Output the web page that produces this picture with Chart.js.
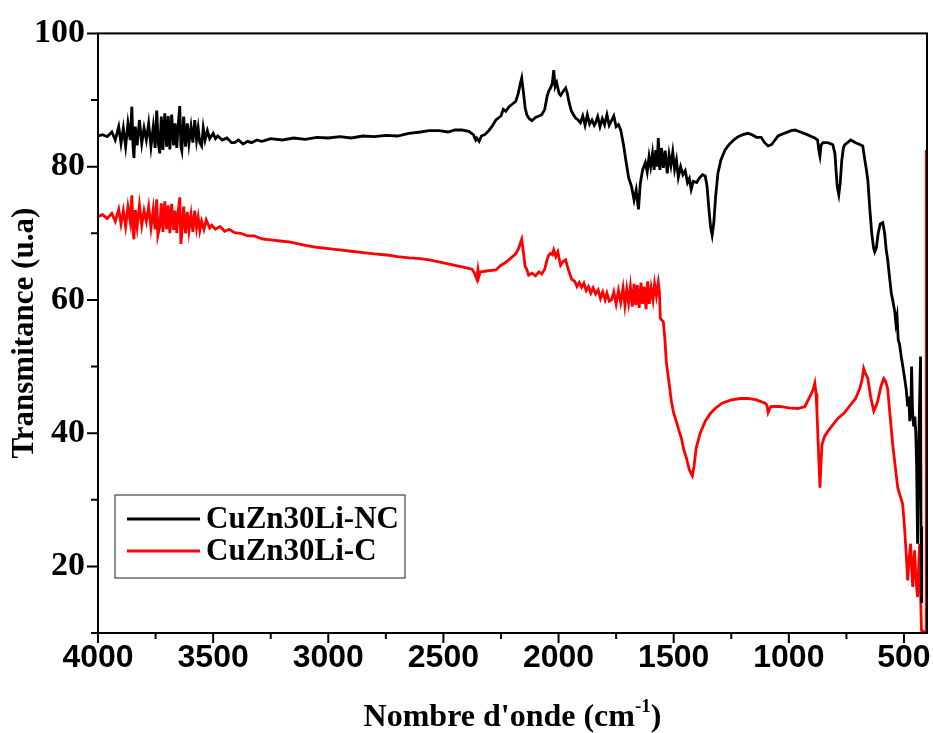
<!DOCTYPE html>
<html><head><meta charset="utf-8">
<script src="https://cdn.jsdelivr.net/npm/chart.js@4.4.1/dist/chart.umd.min.js"></script>
<style>html,body{margin:0;padding:0;background:#fff}#wrap{width:933px;height:733px;position:relative}</style>
</head><body><div id="wrap"><canvas id="c" width="933" height="733"></canvas></div>
<script>
// ---- data (wavenumber cm-1, transmittance %) ----
const ncWave=[4000,3980,3960,3940,3925,3910,3900,3890,3880,3870,3860,3853,3848,3844,3838,3830,3820,3810,3800,3790,3780,3770,3760,3752,3745,3738,3732,3725,3718,3710,3702,3695,3688,3680,3672,3665,3658,3650,3645,3640,3636,3628,3620,3612,3605,3596,3588,3580,3572,3565,3558,3550,3543,3535,3525,3515,3500,3490,3480,3460,3440,3420,3407,3390,3370,3350,3333,3310,3290,3277,3250,3200,3150,3100,3050,3000,2950,2900,2850,2800,2750,2700,2650,2600,2562,2519,2480,2450,2419,2390,2370,2360,2355,2345,2335,2320,2303,2290,2272,2250,2240,2229,2215,2200,2186,2175,2166,2160,2152,2145,2138,2127,2116,2100,2085,2073,2060,2050,2043,2035,2027,2021,2015,2008,1998,1991,1980,1969,1962,1956,1945,1935,1926,1915,1905,1895,1885,1875,1865,1855,1845,1839,1830,1820,1810,1800,1790,1780,1770,1760,1750,1740,1730,1718,1708,1696,1683,1672,1663,1653,1645,1635,1623,1615,1607,1600,1592,1585,1578,1572,1567,1560,1553,1545,1537,1528,1520,1512,1504,1496,1488,1480,1470,1460,1450,1440,1432,1424,1415,1400,1390,1375,1363,1355,1348,1340,1333,1326,1318,1308,1295,1277,1260,1240,1220,1200,1177,1160,1140,1120,1105,1090,1075,1060,1047,1020,990,973,950,920,900,887,875,870,865,860,852,830,809,800,795,790,783,777,770,763,757,745,731,710,690,679,670,663,657,648,640,632,627,620,612,603,592,584,577,571,563,555,548,540,535,530,525,519,512,505,497,490,484,479,475,470,467,463,458,453,449,445,441,436,432,428,426,423];
const ncT=[84.6,84.8,84.5,85.2,84.0,86.0,83.5,85.8,83.0,86.5,84.0,89.0,83.0,81.3,86.0,83.2,87.0,83.5,85.8,84.0,86.5,83.0,86.0,82.8,88.4,83.5,82.0,87.5,82.5,88.0,83.0,87.6,82.6,87.8,83.2,86.5,82.8,87.0,89.1,83.0,82.4,87.5,83.0,86.5,83.5,86.0,83.6,87.0,84.0,85.8,83.6,83.1,85.8,84.0,85.4,84.2,85.0,84.2,84.6,84.0,84.3,83.6,83.6,84.0,83.4,83.8,83.6,84.0,83.8,83.9,84.2,84.0,84.3,84.1,84.4,84.3,84.5,84.3,84.6,84.5,84.7,84.6,85.0,85.2,85.4,85.4,85.2,85.5,85.5,85.3,84.8,84.0,84.3,83.8,84.6,84.8,85.4,86.0,87.0,87.6,88.6,88.3,89.0,89.4,89.8,91.0,92.5,93.3,91.0,88.8,87.8,87.2,86.9,87.4,87.6,87.8,88.6,90.5,91.3,91.8,92.5,94.5,92.0,92.6,91.0,90.7,91.3,91.8,91.0,89.9,88.4,87.8,87.3,87.0,86.6,87.6,86.2,87.8,86.4,87.0,86.2,86.6,87.5,86.0,87.2,86.3,87.8,86.2,86.9,87.6,86.0,86.3,85.5,83.3,81.0,78.4,77.0,75.0,76.5,73.6,77.5,79.5,80.6,79.2,81.5,80.0,82.0,79.5,82.5,80.0,84.3,79.5,82.8,79.8,82.4,79.0,81.8,80.2,82.2,79.6,81.0,78.4,80.0,78.8,79.4,77.6,78.2,76.6,77.8,77.6,78.2,78.8,78.6,77.0,74.0,71.0,69.7,71.5,75.5,79.0,81.0,82.5,83.3,84.0,84.5,84.8,85.0,84.8,84.4,84.4,83.6,83.1,83.3,84.0,84.6,85.0,85.4,85.5,85.2,84.8,84.5,84.3,84.0,82.5,81.6,83.2,83.6,83.6,83.3,82.0,79.5,77.0,75.8,77.5,81.0,82.8,83.3,83.6,84.0,83.6,83.3,83.1,81.0,79.5,78.0,73.5,70.0,67.8,67.2,67.8,70.0,71.4,71.6,70.0,67.5,66.1,63.5,61.0,59.8,58.2,56.5,57.5,54.0,53.3,51.5,50.0,48.2,46.5,44.0,45.5,41.8,43.0,50.0,43.5,41.0,42.5,40.3,35.0,23.4,38.0,45.0,51.5,26.0,14.5];
const cWave=[4000,3980,3960,3940,3925,3910,3900,3890,3880,3870,3860,3853,3848,3844,3838,3830,3820,3810,3800,3790,3780,3770,3760,3752,3745,3740,3732,3725,3718,3710,3702,3695,3688,3680,3672,3665,3658,3650,3645,3640,3636,3628,3620,3612,3605,3596,3588,3580,3572,3565,3558,3550,3540,3530,3515,3506,3490,3470,3450,3430,3407,3380,3350,3320,3300,3277,3250,3200,3169,3130,3100,3050,3000,2950,2900,2850,2800,2736,2700,2650,2600,2562,2520,2480,2440,2400,2376,2365,2355,2350,2346,2340,2320,2300,2272,2250,2230,2210,2186,2175,2166,2160,2152,2145,2138,2130,2115,2100,2085,2073,2060,2050,2043,2035,2027,2021,2012,2003,1995,1991,1980,1969,1960,1950,1943,1930,1920,1910,1900,1890,1880,1870,1860,1850,1839,1828,1818,1808,1798,1790,1780,1770,1760,1750,1740,1730,1720,1712,1704,1696,1688,1680,1672,1665,1658,1650,1642,1635,1628,1620,1613,1606,1598,1590,1583,1575,1567,1562,1558,1545,1538,1532,1520,1510,1500,1489,1478,1467,1456,1445,1432,1425,1419,1412,1402,1385,1363,1340,1320,1290,1250,1210,1177,1140,1103,1095,1090,1084,1077,1040,1000,960,930,904,895,887,882,878,872,865,861,856,845,830,810,787,760,731,710,692,682,675,668,657,645,631,622,614,600,588,580,571,560,549,538,527,516,506,500,493,488,484,478,471,467,462,458,454,448,441,436,432,428,424,414,404,403];
const cT=[72.5,72.8,72.2,73.0,71.8,73.6,71.4,73.4,71.0,74.0,71.8,75.7,70.5,69.1,73.5,71.0,74.2,71.2,73.4,71.8,74.0,70.8,73.6,70.6,75.1,69.7,71.0,74.5,70.2,74.8,70.6,74.2,70.0,74.4,70.5,73.4,70.0,73.8,75.4,68.4,70.0,74.0,70.0,73.2,70.4,72.8,70.2,73.4,70.8,72.4,70.4,71.8,70.6,72.0,70.8,71.2,70.6,71.0,70.3,70.6,70.1,70.0,69.6,69.6,69.3,69.1,69.0,68.8,68.7,68.4,68.2,67.9,67.7,67.5,67.3,67.1,66.9,66.7,66.5,66.3,66.2,66.0,65.7,65.4,65.1,64.8,64.6,64.0,63.1,64.5,63.5,64.2,64.3,64.4,64.5,65.2,65.6,66.2,66.9,67.6,68.5,69.1,67.0,65.0,64.6,63.7,64.0,63.6,64.2,63.9,64.6,66.0,66.7,67.0,66.8,67.5,66.5,67.2,65.8,65.2,65.8,66.0,64.8,63.8,63.1,62.8,62.0,62.6,61.9,62.5,61.4,62.0,61.0,61.8,60.9,61.5,60.2,61.2,60.0,61.0,59.8,60.0,61.2,59.4,61.4,59.6,61.8,59.2,61.6,59.6,62.0,59.0,62.4,59.2,62.2,58.8,62.6,59.4,62.0,58.6,62.8,59.4,61.8,60.0,62.4,60.6,62.6,61.2,57.2,56.7,54.0,50.7,47.5,44.8,43.0,41.8,40.5,39.3,37.5,36.3,34.5,34.0,33.6,35.0,37.8,40.0,41.8,43.0,43.7,44.5,45.0,45.2,45.2,45.0,44.5,44.2,43.1,43.6,44.0,44.0,43.8,43.7,44.0,45.8,46.5,47.5,46.0,43.3,38.0,31.8,35.0,38.3,39.5,40.3,41.2,42.2,43.0,44.3,45.2,46.7,48.0,49.7,49.0,48.2,45.5,43.3,44.0,44.8,47.0,48.2,47.8,46.7,42.5,38.3,35.0,31.8,30.5,29.4,27.0,23.4,20.5,17.9,21.0,23.4,20.0,16.9,20.5,22.4,18.0,15.4,20.0,23.4,16.0,10.4,10.2,10.0,82.5];
const seriesLabels=['CuZn30Li-NC','CuZn30Li-C'];
const seriesColors=['#000000','#ff0000'];
const xMajorTicks=[4000,3500,3000,2500,2000,1500,1000,500];
const xMinorTicks=[3750,3250,2750,2250,1750,1250,750];
const yMajorTicks=[20,40,60,80,100];
const yMinorTicks=[10,30,50,70,90];
const xTitleMain="Nombre d'onde (cm";
const xTitleSup="-1";
const xTitleEnd=")";
const yTitle="Transmitance (u.a)";

const toXY=(xs,ys)=>xs.map((x,i)=>({x:x,y:ys[i]}));
const SERIF='"Liberation Serif","Times New Roman",serif';
const SANS='"Liberation Sans",Arial,sans-serif';

const decor={
  id:'decor',
  afterDraw(chart){
    const ctx=chart.ctx, a=chart.chartArea, xs=chart.scales.x, ys=chart.scales.y;
    ctx.save();
    ctx.strokeStyle='#000'; ctx.lineWidth=2;
    ctx.strokeRect(a.left,a.top,a.right-a.left,a.bottom-a.top);
    ctx.beginPath();
    xMajorTicks.forEach(v=>{const p=xs.getPixelForValue(v);ctx.moveTo(p,a.bottom);ctx.lineTo(p,a.bottom+10);});
    xMinorTicks.forEach(v=>{const p=xs.getPixelForValue(v);ctx.moveTo(p,a.bottom);ctx.lineTo(p,a.bottom+6);});
    yMajorTicks.forEach(v=>{const p=ys.getPixelForValue(v);ctx.moveTo(a.left,p);ctx.lineTo(a.left-11,p);});
    yMinorTicks.forEach(v=>{const p=ys.getPixelForValue(v);ctx.moveTo(a.left,p);ctx.lineTo(a.left-7,p);});
    ctx.stroke();
    // x tick labels
    ctx.fillStyle='#000';
    ctx.font='bold 32px '+SANS;
    ctx.textAlign='center'; ctx.textBaseline='middle';
    xMajorTicks.forEach(v=>{ctx.fillText(String(v),xs.getPixelForValue(v),a.bottom+25);});
    // x title with superscript
    const FT=32, FS=19;
    ctx.font='bold '+FT+'px '+SERIF;
    const w1=ctx.measureText(xTitleMain).width;
    ctx.font='bold '+FS+'px '+SERIF;
    const w2=ctx.measureText(xTitleSup).width;
    ctx.font='bold '+FT+'px '+SERIF;
    const w3=ctx.measureText(xTitleEnd).width;
    const cx=(a.left+a.right)/2, tot=w1+w2+w3, by=a.bottom+93;
    let x0=cx-tot/2;
    ctx.textAlign='left'; ctx.textBaseline='alphabetic';
    ctx.fillText(xTitleMain,x0,by);
    ctx.font='bold '+FS+'px '+SERIF;
    ctx.fillText(xTitleSup,x0+w1,by-14);
    ctx.font='bold '+FT+'px '+SERIF;
    ctx.fillText(xTitleEnd,x0+w1+w2,by);
    // legend
    const lx=a.left+17, ly=a.bottom-138, lw=290, lh=83;
    ctx.lineWidth=1.2; ctx.strokeStyle='#444';
    ctx.strokeRect(lx,ly,lw,lh);
    ctx.font='bold 31px '+SERIF; ctx.textBaseline='middle';
    chart.data.datasets.forEach((ds,i)=>{
      const yy=ly+24+i*32;
      ctx.strokeStyle=ds.borderColor; ctx.lineWidth=2.8;
      ctx.beginPath(); ctx.moveTo(lx+12,yy); ctx.lineTo(lx+85,yy); ctx.stroke();
      ctx.fillStyle='#000';
      ctx.fillText(ds.label,lx+91,yy+1);
    });
    ctx.restore();
  }
};

new Chart(document.getElementById('c'),{
  type:'line',
  data:{datasets:[
    {label:seriesLabels[0],data:toXY(ncWave,ncT),borderColor:seriesColors[0],borderWidth:2.8,pointRadius:0,tension:0,fill:false},
    {label:seriesLabels[1],data:toXY(cWave,cT),borderColor:seriesColors[1],borderWidth:2.8,pointRadius:0,tension:0,fill:false}
  ]},
  options:{
    responsive:false,animation:false,
    layout:{padding:{top:30,right:6,left:0,bottom:0}},
    plugins:{legend:{display:false},tooltip:{enabled:false}},
    scales:{
      x:{type:'linear',reverse:true,min:400,max:4000,
        grid:{display:false,drawTicks:false},border:{display:false},
        ticks:{display:false},
        afterFit(s){s.height=100;}},
      y:{type:'linear',min:10,max:100,
        grid:{display:false,drawTicks:false},border:{display:false},
        afterBuildTicks(s){s.ticks=yMajorTicks.map(v=>({value:v}));},
        ticks:{padding:13,color:'#000',font:{family:SERIF,size:34,weight:'bold'}},
        title:{display:true,text:yTitle,color:'#000',padding:{top:6,bottom:0},font:{family:SERIF,size:31,weight:'bold'}},
        afterFit(s){s.width=98;}}
    }
  },
  plugins:[decor]
});
</script></body></html>
